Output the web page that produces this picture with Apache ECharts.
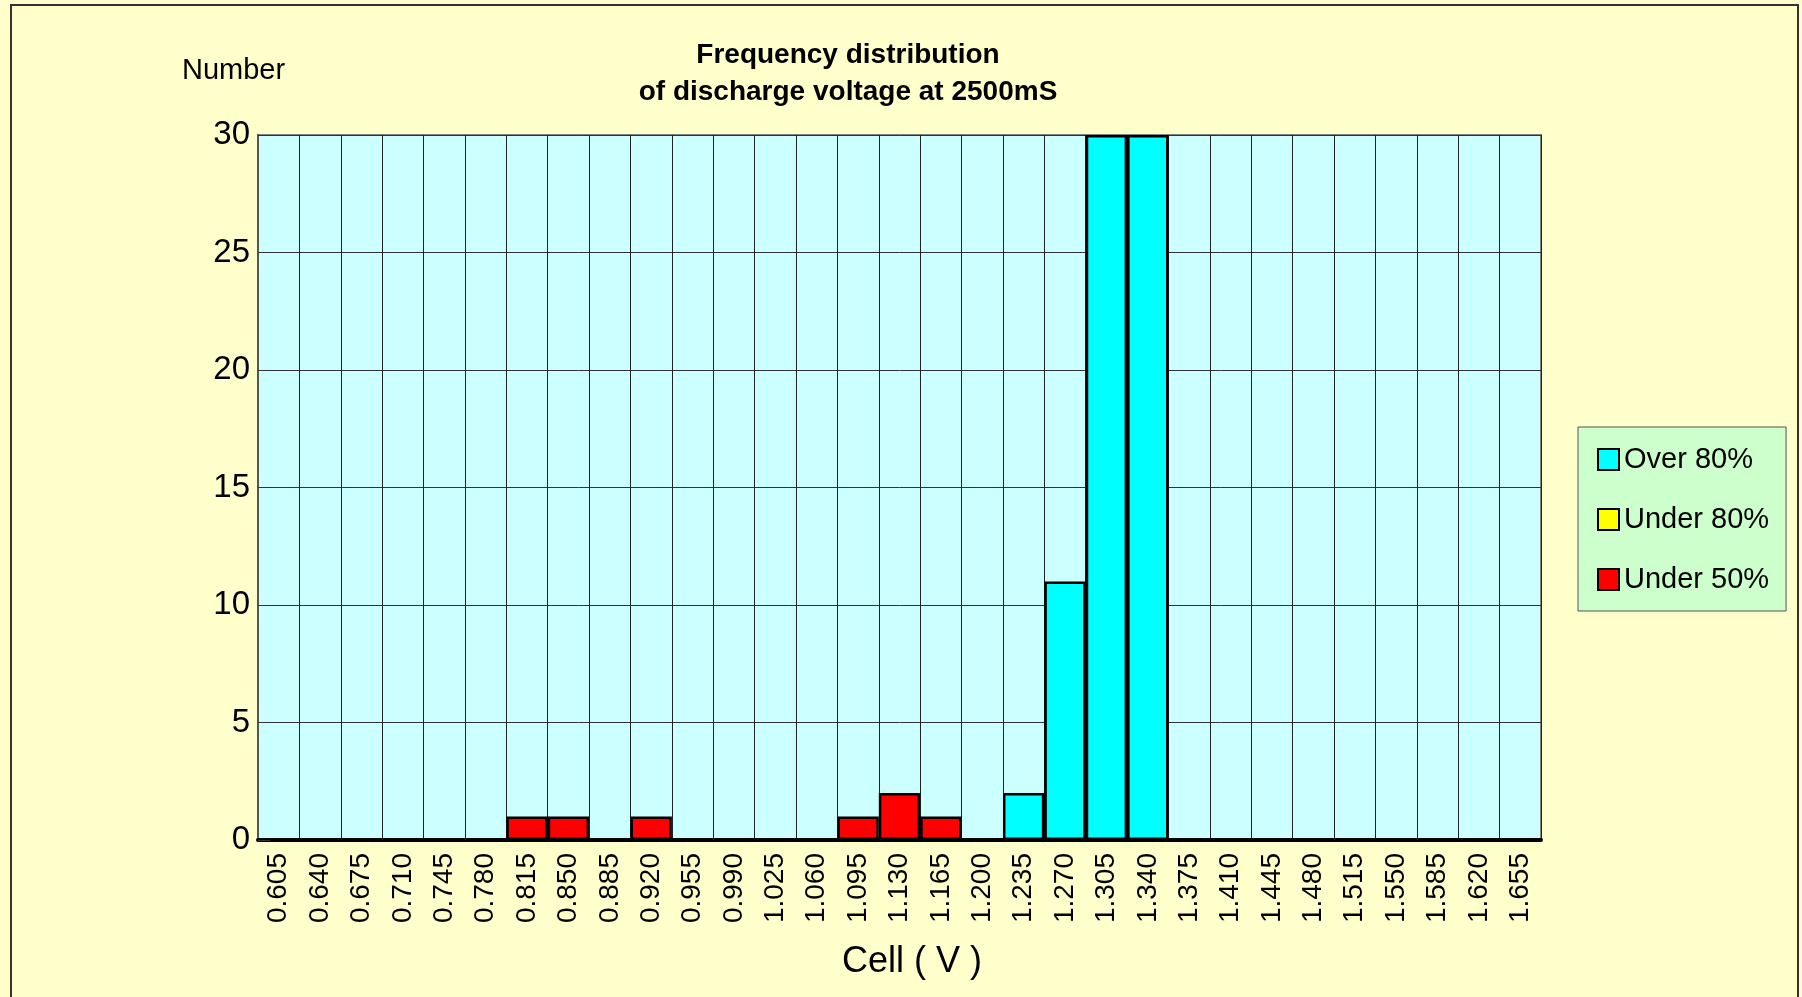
<!DOCTYPE html>
<html>
<head>
<meta charset="utf-8">
<title>Frequency distribution of discharge voltage</title>
<script src="https://cdn.jsdelivr.net/npm/echarts@6/dist/echarts.min.js"></script>
<style>
    html, body { margin: 0; padding: 0; background: #FFFFCC; }
    #chart { width: 1802px; height: 997px; }
</style>
</head>
<body>
<div id="chart"></div>
<script>
    // 電圧区分 (V)
    const voltages = ['0.605','0.640','0.675','0.710','0.745','0.780','0.815','0.850','0.885','0.920',
                      '0.955','0.990','1.025','1.060','1.095','1.130','1.165','1.200','1.235','1.270',
                      '1.305','1.340','1.375','1.410','1.445','1.480','1.515','1.550','1.585','1.620','1.655'];
    // 個数
    const over80  = [0,0,0,0,0,0,0,0,0,0, 0,0,0,0,0,0,0,0,2,11, 30,30,0,0,0,0,0,0,0,0,0];
    const under80 = [0,0,0,0,0,0,0,0,0,0, 0,0,0,0,0,0,0,0,0,0,  0,0,0,0,0,0,0,0,0,0,0];
    const under50 = [0,0,0,0,0,0,1,1,0,1, 0,0,0,0,1,2,1,0,0,0,  0,0,0,0,0,0,0,0,0,0,0];
    const yTicks = [0, 5, 10, 15, 20, 25, 30];

    const sansFont = "'Liberation Sans', Arial, sans-serif";

    // 0 は描かない
    function bars(arr) {
        return arr.map(v => v === 0 ? '-' : v);
    }

    function barSeries(name, color, arr) {
        return {
            name: name,
            type: 'bar',
            barGap: '-100%',
            barCategoryGap: '0%',
            itemStyle: { color: color, borderColor: '#000', borderWidth: 2.5 },
            emphasis: { disabled: true },
            data: bars(arr)
        };
    }

    let mChart = echarts.init(document.getElementById('chart'));
    let option = {
        backgroundColor: '#FFFFCC',
        animation: false,
        textStyle: { fontFamily: sansFont },
        grid: {
            left: 258, top: 135, right: 261, bottom: 157,
            show: true,
            backgroundColor: '#CCFFFF',
            borderColor: '#808080',
            borderWidth: 2
        },
        legend: {
            orient: 'vertical',
            left: 1578, top: 427,
            padding: [18, 17, 17, 19],
            itemWidth: 21, itemHeight: 21,
            itemGap: 31,
            backgroundColor: '#CCFFCC',
            borderColor: '#555',
            borderWidth: 1,
            borderRadius: 0,
            icon: 'rect',
            textStyle: { fontSize: 29, color: '#000', fontFamily: sansFont },
            data: ['Over 80%', 'Under 80%', 'Under 50%']
        },
        xAxis: {
            type: 'category',
            data: voltages,
            boundaryGap: true,
            axisLine: { lineStyle: { color: '#000', width: 4 } },
            axisTick: { show: false },
            axisLabel: {
                interval: 0, rotate: 90, margin: 13,
                fontSize: 28, color: '#000'
            },
            splitLine: { show: true, interval: 0, lineStyle: { color: '#222', width: 1 } }
        },
        yAxis: {
            type: 'value',
            min: yTicks[0], max: yTicks[yTicks.length - 1], interval: 5,
            axisLine: { show: true, lineStyle: { color: '#555', width: 2 } },
            axisTick: { show: true, inside: true, length: 12, lineStyle: { color: '#333' } },
            axisLabel: { fontSize: 33, color: '#000', margin: 8 },
            splitLine: { lineStyle: { color: '#333', width: 1 } }
        },
        graphic: [
            {
                type: 'rect', silent: true, z: -1,
                shape: { x: 11, y: 5, width: 1787, height: 1000 },
                style: { fill: null, stroke: '#333', lineWidth: 2 }
            },
            {
                type: 'text', x: 848, y: 74,
                style: {
                    text: 'Frequency distribution\nof discharge voltage at 2500mS',
                    align: 'center', verticalAlign: 'middle', lineHeight: 37,
                    fontSize: 28, fontWeight: 'bold', fontFamily: sansFont, fill: '#000'
                }
            },
            {
                type: 'text', x: 182, y: 71,
                style: {
                    text: 'Number', align: 'left', verticalAlign: 'middle',
                    fontSize: 29, fontFamily: sansFont, fill: '#000'
                }
            },
            {
                type: 'text', x: 912, y: 962,
                style: {
                    text: 'Cell ( V )', align: 'center', verticalAlign: 'middle',
                    fontSize: 36, fontFamily: sansFont, fill: '#000'
                }
            }
        ],
        series: [
            barSeries('Over 80%', '#00FFFF', over80),
            barSeries('Under 80%', '#FFFF00', under80),
            barSeries('Under 50%', '#FF0000', under50)
        ]
    };
    mChart.setOption(option);
</script>
</body>
</html>
